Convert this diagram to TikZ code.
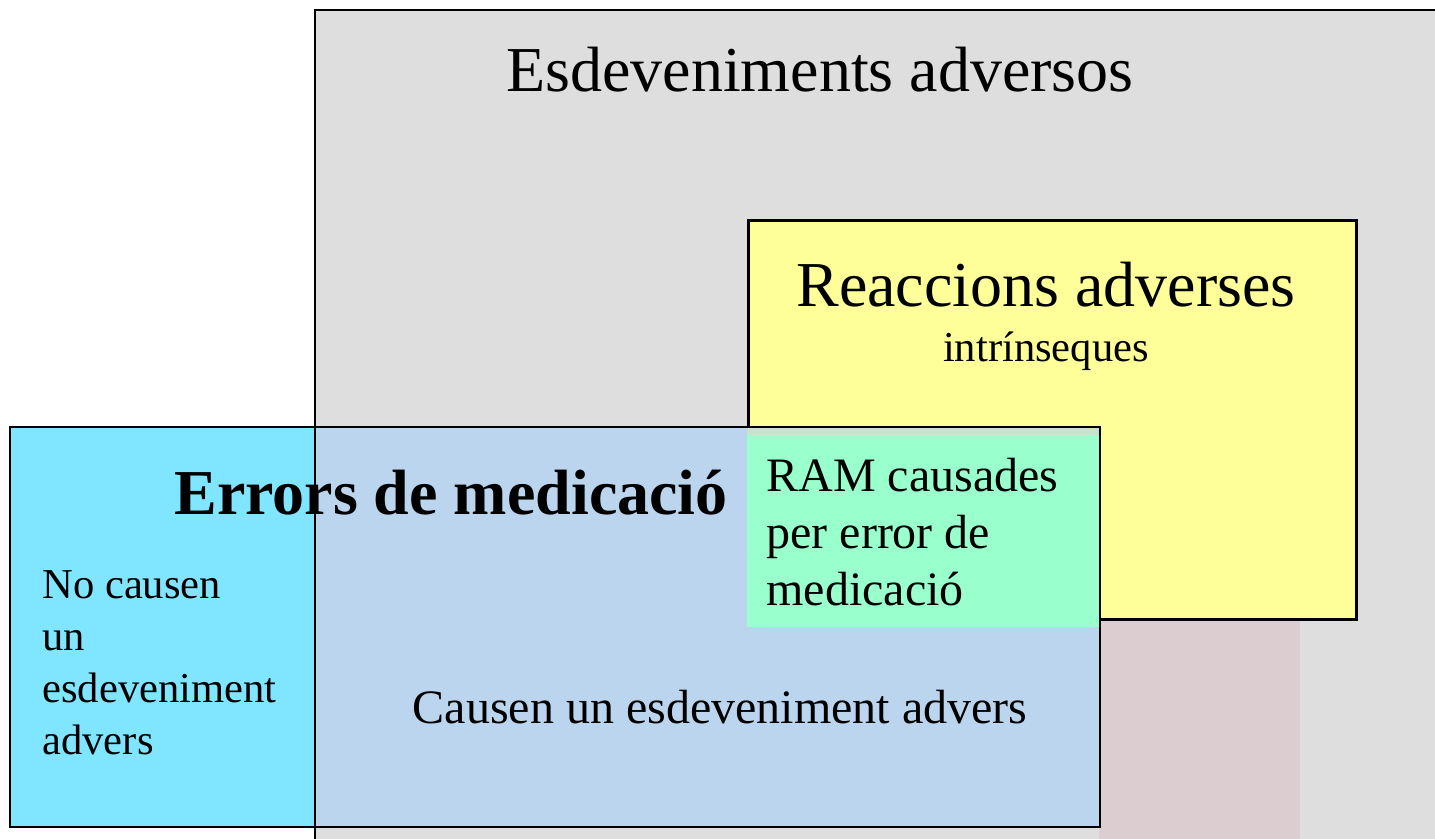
\documentclass[tikz,border=0pt]{standalone}
\usepackage{fontspec}
\setmainfont{Liberation Serif}
\usetikzlibrary{positioning}
\definecolor{evGray}{HTML}{DEDEDE}
\definecolor{raYellow}{HTML}{FFFF99}
\definecolor{emCyan}{HTML}{80E5FF}
\definecolor{emBlue}{HTML}{BBD5EE}
\definecolor{ramGreen}{HTML}{99FFCC}
\definecolor{mixStrip}{HTML}{C9E1CD}
\definecolor{logoPink}{HTML}{DCCDD1}
\tikzstyle{setBox} = [inner sep=0pt, anchor=north west]
\tikzstyle{boxLine} = [line width=1.3pt, draw=black]
\tikzstyle{bigText} = [anchor=base, font=\fontsize{32}{38}\selectfont]
\tikzstyle{midText} = [anchor=base west, align=left, inner sep=0pt, font=\fontsize{24}{28.5}\selectfont]
\tikzstyle{smallText} = [anchor=base west, align=left, inner sep=0pt, font=\fontsize{21.3}{25.85}\selectfont]

\begin{document}
\begin{tikzpicture}[x=0.5pt, y=-0.5pt]
  \useasboundingbox (0,0) rectangle (1435,839);
  \clip (0,0) rectangle (1435,839);

  % faded logo behind the sets
  \node[setBox, fill=evGray, minimum width=570pt, minimum height=424.5pt] (ev) at (315,10) {};
  \fill[logoPink] (1099,219) rectangle (1300,839);
  \draw[boxLine] (ev.south west) -- (ev.north west) -- (ev.north east);

  \node[setBox, fill=raYellow, boxLine, minimum width=304pt, minimum height=199.5pt] (ra) at (747,219) {};

  % errors de medicacio: two fills, border drawn last
  \node[setBox, fill=emBlue, minimum width=544.5pt, minimum height=199.5pt] (em) at (10,427) {};
  \fill[emCyan] (em.north west) rectangle (315,826);
  \fill[mixStrip] (747,427) rectangle (1099,435);
  \node[setBox, fill=ramGreen, minimum width=176pt, minimum height=96pt] (ram) at (747,435) {};
  \draw[boxLine] (em.north west) rectangle (em.south east);
  \draw[boxLine] (ev.north west |- em.north) -- (ev.south west);

  \node[bigText] (evTitle) at (820,92) {Esdeveniments adversos};
  \node[bigText] (raTitle) at (1046,307) {Reaccions adverses};
  \node[anchor=base, font=\fontsize{21.3}{25.85}\selectfont] (raSub) at (1046,362) {intrínseques};
  \node[bigText, font=\fontsize{32}{38}\selectfont\bfseries] (emTitle) at (451,515) {Errors de medicació};
  % multi-line nodes sit on their last line
  \node[midText] (ramText) at (766,605) {RAM causades\\per error de\\medicació};
  \node[smallText] (noText) at (42,754) {No causen\\un\\esdeveniment\\advers};
  \node[anchor=base, font=\fontsize{24}{28.5}\selectfont] (causeText) at (720,723) {Causen un esdeveniment advers};
\end{tikzpicture}
\end{document}
